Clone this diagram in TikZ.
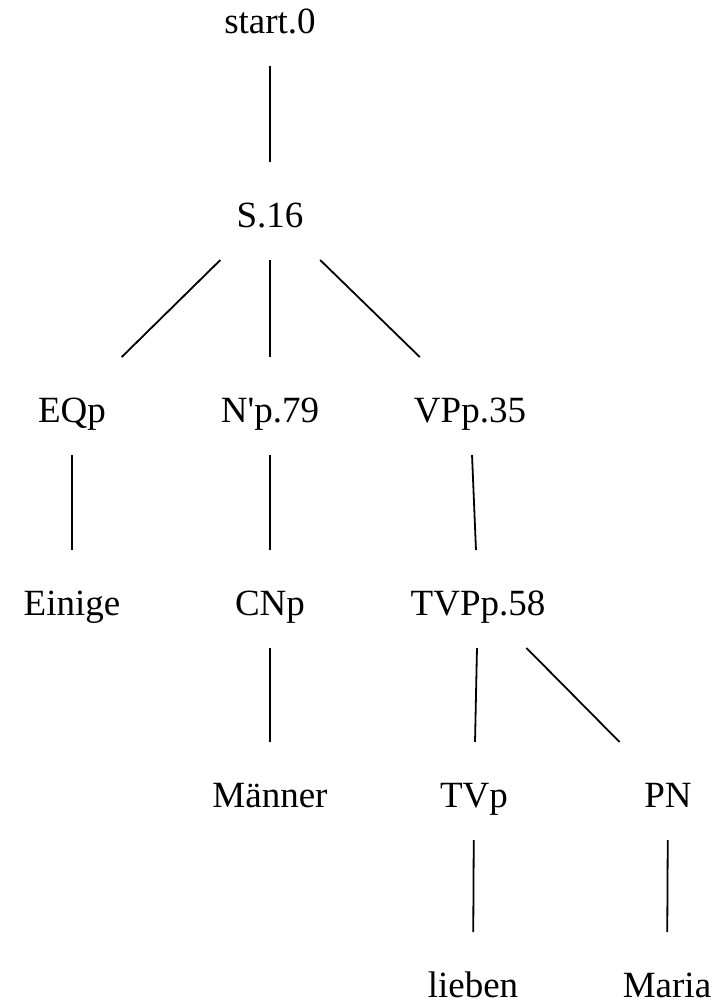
\documentclass[tikz,border=0pt]{standalone}
\usepackage{fontspec}
\setmainfont{Liberation Serif}
\begin{document}
\begin{tikzpicture}[x=1pt,y=-1pt,
  lbl/.style={anchor=base, inner sep=0pt, outer sep=0pt, text height=65pt, text depth=33pt, minimum width=110pt, font=\fontsize{37}{44}\selectfont},
  edge/.style={line width=1.8pt, black}]
\useasboundingbox (0,0) rectangle (718,1004);
\node[lbl] (start) at (270,33) {start.0};
\node[lbl] (S) at (270,227) {S.16};
\node[lbl] (EQp) at (72,422) {EQp};
\node[lbl] (Np) at (270,422) {N\textquotesingle p.79};
\node[lbl] (VPp) at (470,422) {VPp.35};
\node[lbl] (Einige) at (72,615) {Einige};
\node[lbl] (CNp) at (270,615) {CNp};
\node[lbl] (TVPp) at (478,615) {TVPp.58};
\node[lbl] (Maenner) at (270,807) {Männer};
\node[lbl] (TVp) at (474,807) {TVp};
\node[lbl] (PN) at (668,807) {PN};
\node[lbl] (lieben) at (473,997) {lieben};
\node[lbl] (Maria) at (667,997) {Maria};
\draw[edge] (start) -- (S);
\draw[edge] (S) -- (EQp);
\draw[edge] (S) -- (Np);
\draw[edge] (S) -- (VPp);
\draw[edge] (EQp) -- (Einige);
\draw[edge] (Np) -- (CNp);
\draw[edge] (VPp) -- (TVPp);
\draw[edge] (CNp) -- (Maenner);
\draw[edge] (TVPp) -- (TVp);
\draw[edge] (TVPp) -- (PN);
\draw[edge] (TVp) -- (lieben);
\draw[edge] (PN) -- (Maria);
\end{tikzpicture}
\end{document}
